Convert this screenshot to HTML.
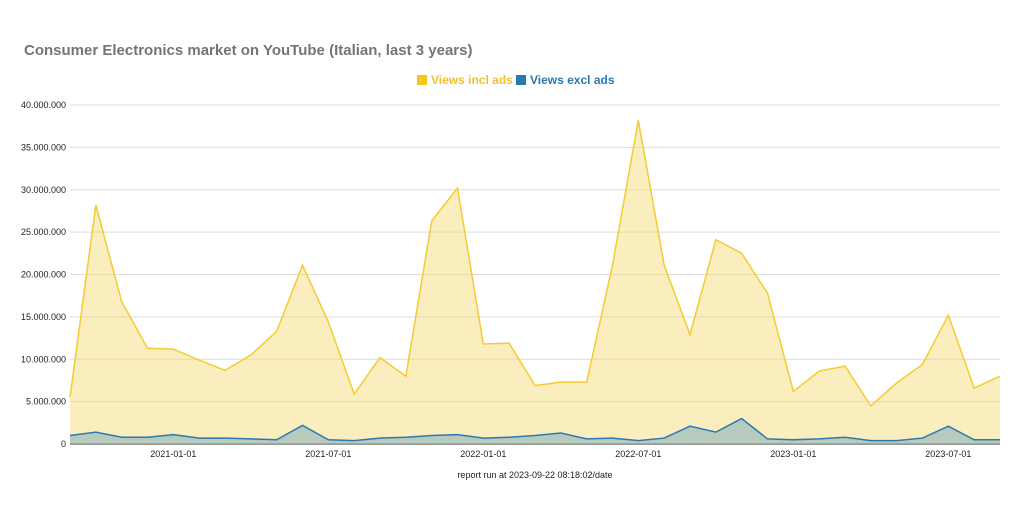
<!DOCTYPE html>
<html><head><meta charset="utf-8">
<style>
body{margin:0;background:#fff;font-family:"Liberation Sans",sans-serif;}
svg text{font-family:"Liberation Sans",sans-serif;}
</style></head>
<body>
<svg id="chart" width="1024" height="511" viewBox="0 0 1024 511" xmlns="http://www.w3.org/2000/svg">
<rect width="1024" height="511" fill="#fff"/>
<text x="24" y="55" font-size="15" font-weight="bold" fill="#757575">Consumer Electronics market on YouTube (Italian, last 3 years)</text>
<g>
<rect x="417" y="75" width="10" height="10" fill="#f5c518"/>
<text x="431" y="84" font-size="12" font-weight="bold" fill="#f2c12e">Views incl ads</text>
<rect x="516" y="75" width="10" height="10" fill="#2a7ab0"/>
<text x="530" y="84" font-size="12" font-weight="bold" fill="#2a7ab0">Views excl ads</text>
</g>
<g id="grid"></g>
<g id="series"></g>
<g id="xaxis"></g>
<text x="535" y="478" font-size="9" text-anchor="middle" fill="#222">report run at 2023-09-22 08:18:02/date</text>
</svg>
<script>
const yTicks=[0,5,10,15,20,25,30,35,40];
const yTickLabels=["0","5.000.000","10.000.000","15.000.000","20.000.000","25.000.000","30.000.000","35.000.000","40.000.000"];
const xTickIdx=[4,10,16,22,28,34];
const xTickLabels=["2021-01-01","2021-07-01","2022-01-01","2022-07-01","2023-01-01","2023-07-01"];
const viewsIncl=[5.5,28.2,16.8,11.3,11.2,9.9,8.7,10.5,13.3,21.1,14.4,5.9,10.2,8.0,26.3,30.2,11.8,11.9,6.9,7.3,7.3,21.1,38.2,21.1,12.9,24.1,22.5,17.8,6.2,8.6,9.2,4.5,7.2,9.4,15.2,6.6,8.0];
const viewsExcl=[1.0,1.4,0.8,0.8,1.1,0.7,0.7,0.6,0.5,2.2,0.5,0.4,0.7,0.8,1.0,1.1,0.7,0.8,1.0,1.3,0.6,0.7,0.4,0.7,2.1,1.4,3.0,0.6,0.5,0.6,0.8,0.4,0.4,0.7,2.1,0.5,0.5];
const NS="http://www.w3.org/2000/svg";
const x0=70,x1=1000,yb=444,yt=105;
const n=viewsIncl.length;
const X=i=>x0+(x1-x0)*i/(n-1);
const Y=v=>yb-(yb-yt)*v/40;
function mk(t,a,p){const e=document.createElementNS(NS,t);for(const k in a)e.setAttribute(k,a[k]);p.appendChild(e);return e;}
const grid=document.getElementById('grid');
yTicks.forEach((v,i)=>{
 const l=mk('line',{x1:x0,x2:x1,y1:Y(v),y2:Y(v),stroke:i===0?'#333':'#ddd','stroke-width':1},grid);
 
 
 const t=mk('text',{x:66,y:Y(v)+3,'font-size':9,'text-anchor':'end',fill:'#222'},grid);
 t.textContent=yTickLabels[i];
 
 
});
const xa=document.getElementById('xaxis');
xTickIdx.forEach((idx,i)=>{
 const t=mk('text',{x:X(idx),y:457,'font-size':9,'text-anchor':'middle',fill:'#222'},xa);
 t.textContent=xTickLabels[i];
 
 
});
const s=document.getElementById('series');
function draw(vals,fill,stroke,name){
 const pts=vals.map((v,i)=>X(i)+','+Y(v)).join(' ');
 const a=mk('polygon',{points:X(0)+','+yb+' '+pts+' '+X(n-1)+','+yb,fill:fill},s);
 
 
 const l=mk('polyline',{points:pts,fill:'none',stroke:stroke,'stroke-width':1.5},s);
 
 
}
draw(viewsIncl,'rgba(245,215,110,0.45)','#f5cc30','views-incl-ads');
draw(viewsExcl,'rgba(100,160,190,0.45)','#2a7ab0','views-excl-ads');
</script>
</body></html>
